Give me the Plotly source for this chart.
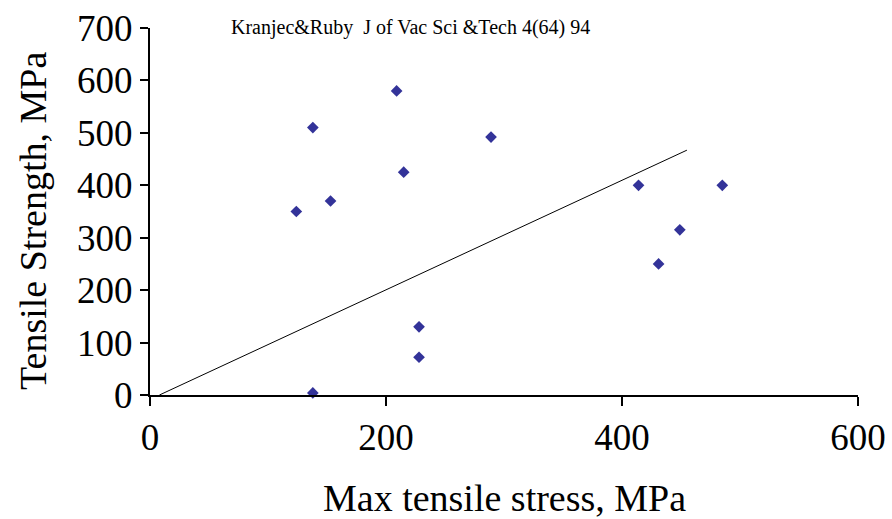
import plotly.graph_objects as go

# Data
max_stress = [124, 153, 215, 228, 228, 138, 138, 209, 289, 414, 485, 449, 431]
tensile_strength = [350, 370, 425, 130, 72, 4, 510, 580, 492, 400, 400, 315, 250]

line_x = [8, 455]
line_y = [0, 467]

x_ticks = [0, 200, 400, 600]
y_ticks = [0, 100, 200, 300, 400, 500, 600, 700]

note = "Kranjec&Ruby  J of Vac Sci &Tech 4(64) 94"

FONT = "Liberation Serif, Times New Roman, serif"

fig = go.Figure()
fig.add_trace(go.Scatter(
    x=max_stress, y=tensile_strength, mode="markers",
    marker=dict(symbol="diamond", size=9, color="#333399"),
    cliponaxis=False, showlegend=False,
))
fig.add_trace(go.Scatter(
    x=line_x, y=line_y, mode="lines",
    line=dict(color="black", width=1),
    cliponaxis=False, showlegend=False,
))

fig.add_annotation(
    x=(229 - 150) / 708, y=(395 - 27) / 367, xref="paper", yref="paper",
    text=note, showarrow=False, xanchor="left", yanchor="middle",
    font=dict(family=FONT, size=20, color="black"),
)
# axis titles
fig.add_annotation(
    x=0.5, y=(395 - 498) / 367, xref="paper", yref="paper",
    text="Max tensile stress, MPa", showarrow=False, xanchor="center", yanchor="middle",
    font=dict(family=FONT, size=38, color="black"),
)
fig.add_annotation(
    x=(33 - 150) / 708, y=(395 - 221) / 367, xref="paper", yref="paper",
    text="Tensile Strength, MPa", showarrow=False, xanchor="center", yanchor="middle",
    textangle=-90, font=dict(family=FONT, size=38, color="black"),
)

fig.update_layout(
    width=892, height=519,
    margin=dict(l=150, r=34, t=28, b=124),
    paper_bgcolor="white", plot_bgcolor="white",
    font=dict(family=FONT, color="black"),
    xaxis=dict(
        range=[0, 600], tickvals=x_ticks, showgrid=False, zeroline=False,
        showline=True, linecolor="black", linewidth=2, automargin=False,
        ticks="outside", ticklen=9, tickwidth=2, tickcolor="black",
        tickfont=dict(size=37, family=FONT),
    ),
    yaxis=dict(
        range=[0, 700], tickvals=y_ticks, showgrid=False, zeroline=False,
        showline=True, linecolor="black", linewidth=2, automargin=False,
        ticks="outside", ticklen=8, tickwidth=2, tickcolor="black",
        tickfont=dict(size=37, family=FONT),
    ),
)

fig.write_html("out.html")
